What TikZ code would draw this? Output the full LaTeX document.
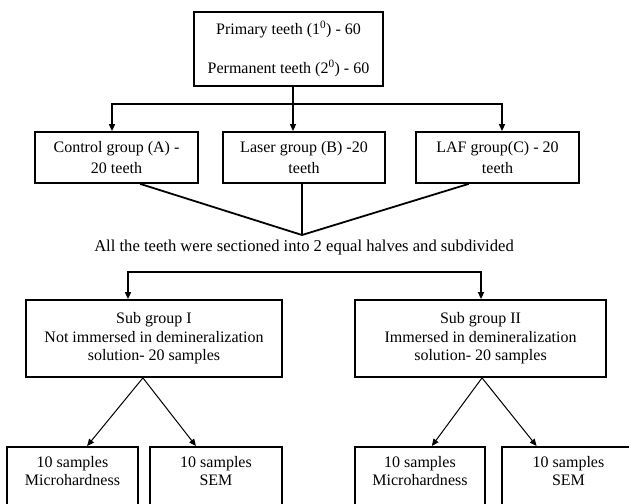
\documentclass[tikz,border=0pt]{standalone}
\usepackage{fontspec}
\setmainfont{Liberation Serif}
\usetikzlibrary{arrows.meta,calc}
\begin{document}
\begin{tikzpicture}[x=1bp,y=-1bp,
  box/.style={draw=black,line width=1.8bp,rectangle,inner sep=0pt,align=center,
    font=\fontsize{16bp}{18.4bp}\selectfont},
  txt/.style={inner sep=0pt,align=center,font=\fontsize{16bp}{18.4bp}\selectfont},
  bar/.style={line width=2.6bp,line cap=rect},
  thickarrow/.style={line width=1.5bp,-{Triangle[length=7bp,width=6bp]}},
  thinarrow/.style={line width=1bp,-{Triangle[length=7bp,width=6bp]}},
  conv/.style={line width=1.8bp}]
\clip (0,0) rectangle (629,504);
\fill[white] (0,0) rectangle (629,504);

% top box
\node[box,minimum width=189bp,minimum height=74bp] (top) at (288.5,49)
  {Primary teeth (1\textsuperscript{0}) - 60\\[20bp]Permanent teeth (2\textsuperscript{0}) - 60};

% group boxes
\node[box,minimum width=163bp,minimum height=51bp] (ctrl) at (116.5,157.5) {Control group (A) -\\[3bp]20 teeth};
\node[box,minimum width=162bp,minimum height=51bp] (laser) at (304,157.5) {Laser group (B) -20\\[3bp]teeth};
\node[box,minimum width=163bp,minimum height=51bp] (laf) at (497.5,157.5) {LAF group(C) - 20\\[3bp]teeth};

% first bar
\coordinate (s) at (293,104);
\coordinate (b1) at (112,104);
\coordinate (b2) at (502,104);
\draw[line width=1.5bp] (top.south -| s) -- (s);
\draw[bar] (b1) -- (b2);
\draw[thickarrow] (b1) -- (ctrl.north -| b1);
\draw[thickarrow] (s) -- (laser.north -| s);
\draw[thickarrow] (b2) -- (laf.north -| b2);

% convergence
\coordinate (m) at (302,235);
\draw[conv] ($(ctrl.south west)!0.644!(ctrl.south east)$) -- (m);
\draw[conv] ($(laser.south west)!0.488!(laser.south east)$) -- (m);
\draw[conv] ($(laf.south west)!0.325!(laf.south east)$) -- (m);
\node[txt,font=\fontsize{16.6bp}{19bp}\selectfont] (sect) at (304,248) {All the teeth were sectioned into 2 equal halves and subdivided};

% sub groups
\node[box,minimum width=256bp,minimum height=77bp] (sub1) at (154,338.5)
  {Sub group I\\Not immersed in demineralization\\solution- 20 samples};
\node[box,minimum width=251bp,minimum height=77bp] (sub2) at (480.5,338.5)
  {Sub group II\\Immersed in demineralization\\solution- 20 samples};

\coordinate (c1) at (128,272);
\coordinate (c2) at (481,272);
\draw[bar] (c1) -- (c2);
\draw[thickarrow] (c1) -- (sub1.north -| c1);
\draw[thickarrow] (c2) -- (sub2.north -| c2);

% bottom boxes
\node[box,minimum width=131bp,minimum height=80bp,anchor=north] (m1) at (72.5,446) {};
\node[box,minimum width=132bp,minimum height=80bp,anchor=north] (s1) at (216,446) {};
\node[box,minimum width=130bp,minimum height=80bp,anchor=north] (m2) at (420,446) {};
\node[box,minimum width=143bp,minimum height=80bp,anchor=north] (s2) at (573.5,446) {};
\node[txt] (m1t) at ($(m1.north)+(0,25)$) {10 samples\\Microhardness};
\node[txt] (s1t) at ($(s1.north)+(0,25)$) {10 samples\\SEM};
\node[txt] (m2t) at ($(m2.north)+(0,25)$) {10 samples\\Microhardness};
\node[txt] (s2t) at ($(s2.north)+(-5,25)$) {10 samples\\SEM};

\coordinate (a1) at ($(sub1.south west)!0.457!(sub1.south east)$);
\draw[thinarrow] (a1) -- ($(m1.north west)!0.61!(m1.north east)$);
\draw[thinarrow] (a1) -- ($(s1.north west)!0.35!(s1.north east)$);
\coordinate (a2) at ($(sub2.south west)!0.506!(sub2.south east)$);
\draw[thinarrow] (a2) -- ($(m2.north west)!0.59!(m2.north east)$);
\draw[thinarrow] (a2) -- ($(s2.north west)!0.245!(s2.north east)$);
\end{tikzpicture}
\end{document}
